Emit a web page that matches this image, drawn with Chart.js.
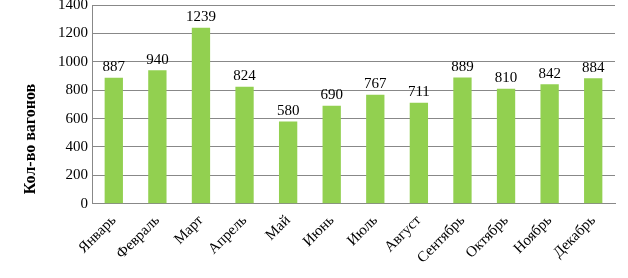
<!DOCTYPE html>
<html><head><meta charset="utf-8">
<script src="https://cdn.jsdelivr.net/npm/chart.js@4/dist/chart.umd.min.js"></script>
<style>html,body{margin:0;padding:0;background:#fff;overflow:hidden}#wrap{width:628px;height:286px;margin-top:-8px}</style>
</head><body><div id="wrap"><canvas id="c"></canvas></div>
<script>
const categories = ["Январь","Февраль","Март","Апрель","Май","Июнь","Июль","Август","Сентябрь","Октябрь","Ноябрь","Декабрь"];
const wagons = [887,940,1239,824,580,690,767,711,889,810,842,884];
const yTitle = "Кол-во вагонов";

const labelsPlugin = {
  id: 'valLabels',
  afterDatasetsDraw(chart) {
    const ctx = chart.ctx;
    const meta = chart.getDatasetMeta(0);
    ctx.save();
    ctx.font = '15px "Liberation Serif", serif';
    ctx.fillStyle = '#000';
    ctx.textAlign = 'center';
    ctx.textBaseline = 'bottom';
    meta.data.forEach((el, i) => {
      ctx.fillText(String(wagons[i]), el.x, el.y - 3);
    });
    ctx.restore();
    // y-axis title, centred on the whole chart height
    ctx.save();
    ctx.font = 'bold 16px "Liberation Serif", serif';
    ctx.fillStyle = '#000';
    ctx.textAlign = 'center';
    ctx.textBaseline = 'middle';
    ctx.translate(31, chart.height / 2 + 4);
    ctx.rotate(-Math.PI / 2);
    ctx.fillText(yTitle, 0, 0);
    ctx.restore();
  }
};

new Chart(document.getElementById('c'), {
  type: 'bar',
  data: { labels: categories, datasets: [{ data: wagons, backgroundColor: '#92D050', barPercentage: 0.42, categoryPercentage: 1.0 }] },
  options: {
    responsive: true, maintainAspectRatio: false, animation: false,
    layout: { padding: { left: 54, right: 13, top: 0, bottom: 3 } },
    plugins: { legend: { display: false }, tooltip: { enabled: false } },
    scales: {
      x: {
        grid: { display: false, drawTicks: false },
        border: { color: '#888', width: 1 },
        ticks: { color: '#000', font: { family: '"Liberation Serif", serif', size: 15 }, maxRotation: 45, minRotation: 45, padding: 8 }
      },
      y: {
        min: 0, max: 1400,
        ticks: { stepSize: 200, color: '#000', font: { family: '"Liberation Serif", serif', size: 15 }, padding: 4, callback: v => String(v) },
        grid: { color: '#888', drawTicks: false },
        border: { color: '#888', width: 1 },
        title: { display: false }
      }
    }
  },
  plugins: [labelsPlugin]
});
</script></body></html>
